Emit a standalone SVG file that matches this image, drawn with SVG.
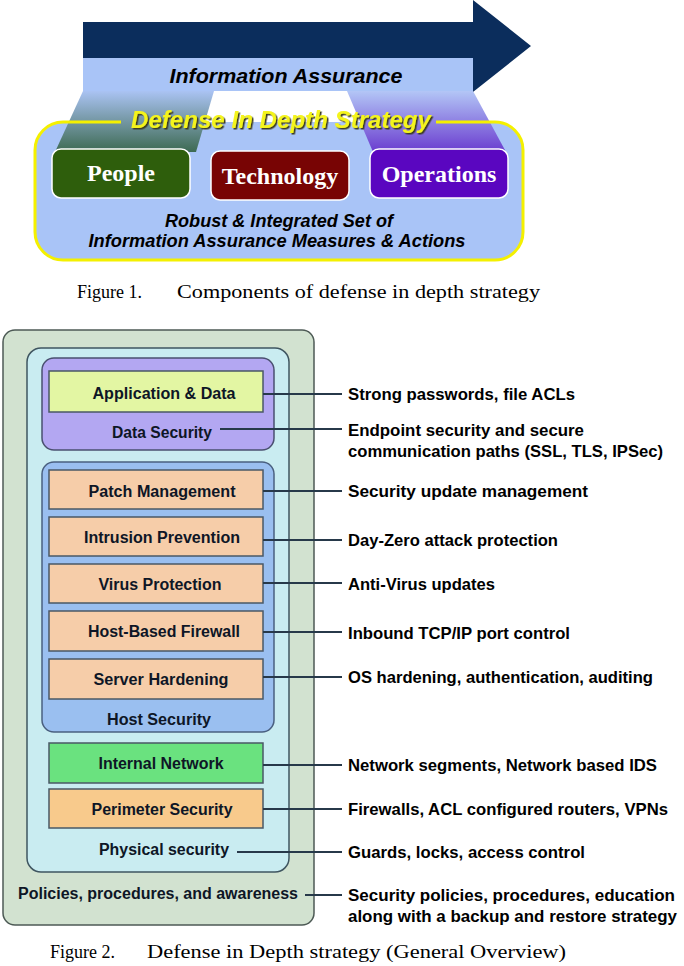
<svg xmlns="http://www.w3.org/2000/svg" width="684" height="966" viewBox="0 0 684 966">
<style>
.it{font-family:"Liberation Sans",Arial,sans-serif;font-weight:bold;font-style:italic;fill:#000}
.big{font-family:"Liberation Serif","Times New Roman",serif;font-weight:bold;font-size:24px;fill:#fff;text-anchor:middle}
.cap{font-family:"Liberation Serif","Times New Roman",serif;font-size:18px;fill:#000}
.lb{font-family:"Liberation Sans",Arial,sans-serif;font-weight:bold;font-size:16px;fill:#0e1626;text-anchor:middle}
.rt{font-family:"Liberation Sans",Arial,sans-serif;font-weight:bold;font-size:17px;fill:#000}
.bx{stroke:#4a5866;stroke-width:1.5}
.pe{fill:#f6cda9}
.cn{stroke:#27394a;stroke-width:2;fill:none}
.wb{stroke:#fff;stroke-width:1.5}
</style>
<defs>
<linearGradient id="gl" x1="0" y1="0" x2="0" y2="1">
<stop offset="0" stop-color="#aac3f3"/>
<stop offset="1" stop-color="#3d6a52"/>
</linearGradient>
<linearGradient id="gr" x1="0" y1="0" x2="0" y2="1">
<stop offset="0" stop-color="#b3c6f6"/>
<stop offset="1" stop-color="#6a3ccf"/>
</linearGradient>
<filter id="sh" x="-5%" y="-20%" width="110%" height="150%">
<feDropShadow dx="1.5" dy="1.5" stdDeviation="0.6" flood-color="#3a3a24" flood-opacity="1"/>
</filter>
</defs>
<rect width="684" height="966" fill="#fff"/>

<!-- Figure 1 -->
<g id="fig1">
<g id="arrow">
<polygon points="83,22 473,22 473,0 531,46 473,92 473,58 83,58" fill="#0b2d5c"/>
<rect x="83" y="58" width="390" height="33" fill="#a9c4f7"/>
<text class="it" x="286" y="83" font-size="21" text-anchor="middle" textLength="233" lengthAdjust="spacingAndGlyphs">Information Assurance</text>
</g>
<g id="container">
<rect x="35" y="122" width="488" height="138" rx="28" fill="#a9c4f7"/>
<polygon points="83,91 214,91 196,152 55,152" fill="url(#gl)"/>
<polygon points="347,91 473,91 506,152 373,152" fill="url(#gr)"/>
<path d="M121,122 H63 A28,28 0 0 0 35,150 V232 A28,28 0 0 0 63,260 H495 A28,28 0 0 0 523,232 V150 A28,28 0 0 0 495,122 H436" fill="none" stroke="#f4f000" stroke-width="3"/>
<text class="it" x="281" y="128" font-size="24" text-anchor="middle" textLength="300" lengthAdjust="spacingAndGlyphs" filter="url(#sh)" style="fill:#f4f41c">Defense In Depth Strategy</text>
<text class="it" x="279" y="227" font-size="18" text-anchor="middle" textLength="228" lengthAdjust="spacingAndGlyphs">Robust &amp; Integrated Set of</text>
<text class="it" x="277" y="247" font-size="18" text-anchor="middle" textLength="377" lengthAdjust="spacingAndGlyphs">Information Assurance Measures &amp; Actions</text>
</g>
<g id="people">
<rect class="wb" x="52" y="149" width="138" height="49" rx="9" fill="#2e5e0c"/>
<text class="big" x="121" y="181">People</text>
</g>
<g id="technology">
<rect class="wb" x="211" y="151" width="138" height="49" rx="9" fill="#780404"/>
<text class="big" x="280" y="184">Technology</text>
</g>
<g id="operations">
<rect class="wb" x="370" y="149" width="138" height="49" rx="9" fill="#5a06c0"/>
<text class="big" x="439" y="182">Operations</text>
</g>
<text class="cap" x="77" y="298">Figure 1.</text>
<text class="cap" x="177" y="298" textLength="363" lengthAdjust="spacingAndGlyphs">Components of defense in depth strategy</text>
</g>

<!-- Figure 2 -->
<g id="fig2">
<g id="policies">
<rect x="3" y="330" width="311" height="595" rx="12" fill="#d2e2d0" stroke="#4d5a55" stroke-width="1.5"/>
<text class="lb" x="158" y="899" textLength="280" lengthAdjust="spacingAndGlyphs">Policies, procedures, and awareness</text>
</g>
<g id="physical">
<rect x="27" y="348" width="262" height="524" rx="14" fill="#c9ecf1" stroke="#3f5560" stroke-width="1.5"/>
<text class="lb" x="164" y="855" textLength="130" lengthAdjust="spacingAndGlyphs">Physical security</text>
</g>
<g id="datasec">
<rect x="42" y="358" width="232" height="92" rx="12" fill="#b3a7f2" stroke="#4a5070" stroke-width="1.5"/>
<text class="lb" x="162" y="438" textLength="100" lengthAdjust="spacingAndGlyphs">Data Security</text>
</g>
<g id="appdata">
<rect class="bx" x="49" y="371" width="214" height="41" fill="#e3f6a3"/>
<text class="lb" x="164" y="399" textLength="143" lengthAdjust="spacingAndGlyphs">Application &amp; Data</text>
</g>
<g id="hostsec">
<rect x="42" y="462" width="232" height="270" rx="12" fill="#9abff0" stroke="#4a6080" stroke-width="1.5"/>
<text class="lb" x="159" y="725" textLength="104" lengthAdjust="spacingAndGlyphs">Host Security</text>
</g>
<g id="patch">
<rect class="bx pe" x="49" y="470" width="214" height="39"/>
<text class="lb" x="162" y="497" textLength="147" lengthAdjust="spacingAndGlyphs">Patch Management</text>
</g>
<g id="intrusion">
<rect class="bx pe" x="49" y="517" width="214" height="39"/>
<text class="lb" x="162" y="543" textLength="156" lengthAdjust="spacingAndGlyphs">Intrusion Prevention</text>
</g>
<g id="virus">
<rect class="bx pe" x="49" y="564" width="214" height="39"/>
<text class="lb" x="160" y="590" textLength="123" lengthAdjust="spacingAndGlyphs">Virus Protection</text>
</g>
<g id="firewall">
<rect class="bx pe" x="49" y="611" width="214" height="40"/>
<text class="lb" x="164" y="637" textLength="152" lengthAdjust="spacingAndGlyphs">Host-Based Firewall</text>
</g>
<g id="hardening">
<rect class="bx pe" x="49" y="659" width="214" height="40"/>
<text class="lb" x="161" y="685" textLength="135" lengthAdjust="spacingAndGlyphs">Server Hardening</text>
</g>
<g id="internal">
<rect class="bx" x="49" y="743" width="214" height="40" fill="#6ae27f"/>
<text class="lb" x="161" y="769" textLength="125" lengthAdjust="spacingAndGlyphs">Internal Network</text>
</g>
<g id="perimeter">
<rect class="bx" x="49" y="789" width="214" height="39" fill="#f8ca8c"/>
<text class="lb" x="162" y="815" textLength="141" lengthAdjust="spacingAndGlyphs">Perimeter Security</text>
</g>

<g id="connectors">
<line class="cn" x1="263" y1="394" x2="342" y2="394"/>
<line class="cn" x1="220" y1="429" x2="342" y2="429"/>
<line class="cn" x1="263" y1="491" x2="342" y2="491"/>
<line class="cn" x1="263" y1="540" x2="342" y2="540"/>
<line class="cn" x1="263" y1="583" x2="342" y2="583"/>
<line class="cn" x1="263" y1="632" x2="342" y2="632"/>
<line class="cn" x1="263" y1="677" x2="342" y2="677"/>
<line class="cn" x1="263" y1="765" x2="342" y2="765"/>
<line class="cn" x1="263" y1="809" x2="342" y2="809"/>
<line class="cn" x1="237" y1="852" x2="342" y2="852"/>
<line class="cn" x1="305" y1="895" x2="342" y2="895"/>
</g>

<g id="descriptions">
<text class="rt" x="348" y="400" textLength="227" lengthAdjust="spacingAndGlyphs">Strong passwords, file ACLs</text>
<text class="rt" x="348" y="436" textLength="236" lengthAdjust="spacingAndGlyphs">Endpoint security and secure</text>
<text class="rt" x="348" y="457" textLength="315" lengthAdjust="spacingAndGlyphs">communication paths (SSL, TLS, IPSec)</text>
<text class="rt" x="348" y="497" textLength="240" lengthAdjust="spacingAndGlyphs">Security update management</text>
<text class="rt" x="348" y="546" textLength="210" lengthAdjust="spacingAndGlyphs">Day-Zero attack protection</text>
<text class="rt" x="348" y="590" textLength="147" lengthAdjust="spacingAndGlyphs">Anti-Virus updates</text>
<text class="rt" x="348" y="639" textLength="222" lengthAdjust="spacingAndGlyphs">Inbound TCP/IP port control</text>
<text class="rt" x="348" y="683" textLength="305" lengthAdjust="spacingAndGlyphs">OS hardening, authentication, auditing</text>
<text class="rt" x="348" y="771" textLength="309" lengthAdjust="spacingAndGlyphs">Network segments, Network based IDS</text>
<text class="rt" x="348" y="815" textLength="320" lengthAdjust="spacingAndGlyphs">Firewalls, ACL configured routers, VPNs</text>
<text class="rt" x="348" y="858" textLength="237" lengthAdjust="spacingAndGlyphs">Guards, locks, access control</text>
<text class="rt" x="348" y="901" textLength="327" lengthAdjust="spacingAndGlyphs">Security policies, procedures, education</text>
<text class="rt" x="348" y="922" textLength="329" lengthAdjust="spacingAndGlyphs">along with a  backup and restore strategy</text>
</g>

<text class="cap" x="50" y="958">Figure 2.</text>
<text class="cap" x="147" y="958" textLength="419" lengthAdjust="spacingAndGlyphs">Defense in Depth strategy (General Overview)</text>
</g>
</svg>
